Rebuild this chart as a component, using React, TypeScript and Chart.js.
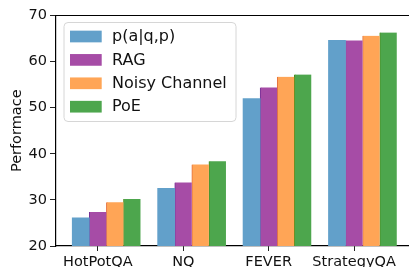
import React, { useEffect, useRef } from "react";
import { Chart, registerables } from "chart.js";

Chart.register(...registerables);

// ---- data ----
const categories = ["HotPotQA", "NQ", "FEVER", "StrategyQA"];
const seriesNames = ["p(a|q,p)", "RAG", "Noisy Channel", "PoE"];
const pAqpValues = [26.1, 32.5, 52.0, 64.6];
const ragValues = [27.4, 33.8, 54.4, 64.6];
const noisyChannelValues = [29.5, 37.7, 56.7, 65.6];
const poeValues = [30.2, 38.4, 57.2, 66.3];
const yTickValues = [20, 30, 40, 50, 60, 70];
const yAxisTitle = "Performace";

// ---- styles ----
const FONT_FAMILY = "'DejaVu Sans', sans-serif";
const fillColors = ["#62a0ca", "#a64ca6", "#ffa556", "#4da64d"];
const edgeColors = ["#62a0ca", "#773096", "#e4703c", "#4c8b1a"];
const TEXT_COLOR = "#111";

const decorPlugin = {
  id: "decor",
  afterDraw(chart: any) {
    const { ctx, chartArea: ca } = chart;
    ctx.save();
    // top spine
    ctx.strokeStyle = "#000";
    ctx.lineWidth = 1.2;
    ctx.beginPath();
    ctx.moveTo(ca.left, ca.top);
    ctx.lineTo(ca.right, ca.top);
    ctx.stroke();

    // legend box
    const x0 = ca.left + 8;
    const y0 = ca.top + 7;
    const w = 172;
    const h = 99;
    const r = 4;
    ctx.beginPath();
    ctx.moveTo(x0 + r, y0);
    ctx.lineTo(x0 + w - r, y0);
    ctx.arcTo(x0 + w, y0, x0 + w, y0 + r, r);
    ctx.lineTo(x0 + w, y0 + h - r);
    ctx.arcTo(x0 + w, y0 + h, x0 + w - r, y0 + h, r);
    ctx.lineTo(x0 + r, y0 + h);
    ctx.arcTo(x0, y0 + h, x0, y0 + h - r, r);
    ctx.lineTo(x0, y0 + r);
    ctx.arcTo(x0, y0, x0 + r, y0, r);
    ctx.closePath();
    ctx.fillStyle = "rgba(255,255,255,0.8)";
    ctx.fill();
    ctx.strokeStyle = "#d6d6d6";
    ctx.lineWidth = 1;
    ctx.stroke();

    const items = chart.data.datasets.filter((d: any) => d.label);
    ctx.font = `16px ${FONT_FAMILY}`;
    ctx.textBaseline = "middle";
    ctx.textAlign = "left";
    items.forEach((ds: any, i: number) => {
      const cy = y0 + 14 + i * 23.4;
      ctx.fillStyle = ds.backgroundColor;
      ctx.fillRect(x0 + 6, cy - 5.85, 31.7, 11.7);
      ctx.fillStyle = TEXT_COLOR;
      ctx.fillText(ds.label, x0 + 48, cy + 0.5);
    });
    ctx.restore();
  },
};

export default function App() {
  const ref = useRef<HTMLCanvasElement | null>(null);

  useEffect(() => {
    if (!ref.current) return;
    const series = [pAqpValues, ragValues, noisyChannelValues, poeValues];
    const font = { family: FONT_FAMILY, size: 14.5 };
    const chart = new Chart(ref.current, {
      type: "bar",
      data: {
        datasets: [
          {
            label: "",
            data: categories.map((_, i) => ({ x: i, y: null })) as any,
            backgroundColor: "rgba(0,0,0,0)",
          },
          ...series.map((vals, s) => ({
            label: seriesNames[s],
            data: vals.map((v, i) => ({ x: i, y: v })),
            backgroundColor: fillColors[s],
            borderColor: edgeColors[s],
            borderWidth: s === 0 ? 0 : { left: 1, top: 0, right: 0, bottom: 0 },
            borderSkipped: "start" as any,
          })),
        ],
      },
      options: {
        animation: false,
        responsive: false,
        layout: { padding: { top: 15.5, right: 0, left: 0, bottom: 0 } },
        datasets: { bar: { categoryPercentage: 1, barPercentage: 1 } },
        plugins: { legend: { display: false }, tooltip: { enabled: false } },
        scales: {
          x: {
            type: "linear",
            offset: false,
            bounds: "data",
            min: -0.49,
            max: 3.69,
            afterBuildTicks: (s: any) => {
              s.ticks = categories.map((_, i) => ({ value: i }));
            },
            afterFit: (s: any) => {
              s.height = 21;
            },
            ticks: {
              font,
              color: TEXT_COLOR,
              padding: 3,
              autoSkip: false,
              maxRotation: 0,
              callback: (v: any) => categories[v] ?? "",
            },
            grid: { offset: false, drawOnChartArea: false, drawTicks: true, tickLength: 5, tickColor: "#222" },
            border: { color: "#000", width: 1.2 },
          },
          y: {
            min: 20,
            max: 70,
            afterBuildTicks: (s: any) => {
              s.ticks = yTickValues.map((v) => ({ value: v }));
            },
            afterFit: (s: any) => {
              s.width = 56;
            },
            ticks: { font, color: TEXT_COLOR, padding: 3 },
            grid: { drawOnChartArea: false, drawTicks: true, tickLength: 6, tickColor: "#222" },
            border: { color: "#000", width: 1.2 },
            title: {
              display: true,
              text: yAxisTitle,
              font,
              color: TEXT_COLOR,
              padding: { top: 9, bottom: 0 },
            },
          },
        },
      },
      plugins: [decorPlugin],
    });
    return () => chart.destroy();
  }, []);

  return (
    <div
      style={{
        position: "fixed",
        left: 0,
        top: 0,
        width: 409,
        height: 267,
        overflow: "hidden",
        background: "#fff",
      }}
    >
      <canvas ref={ref} width={413} height={267} style={{ display: "block" }} />
    </div>
  );
}
